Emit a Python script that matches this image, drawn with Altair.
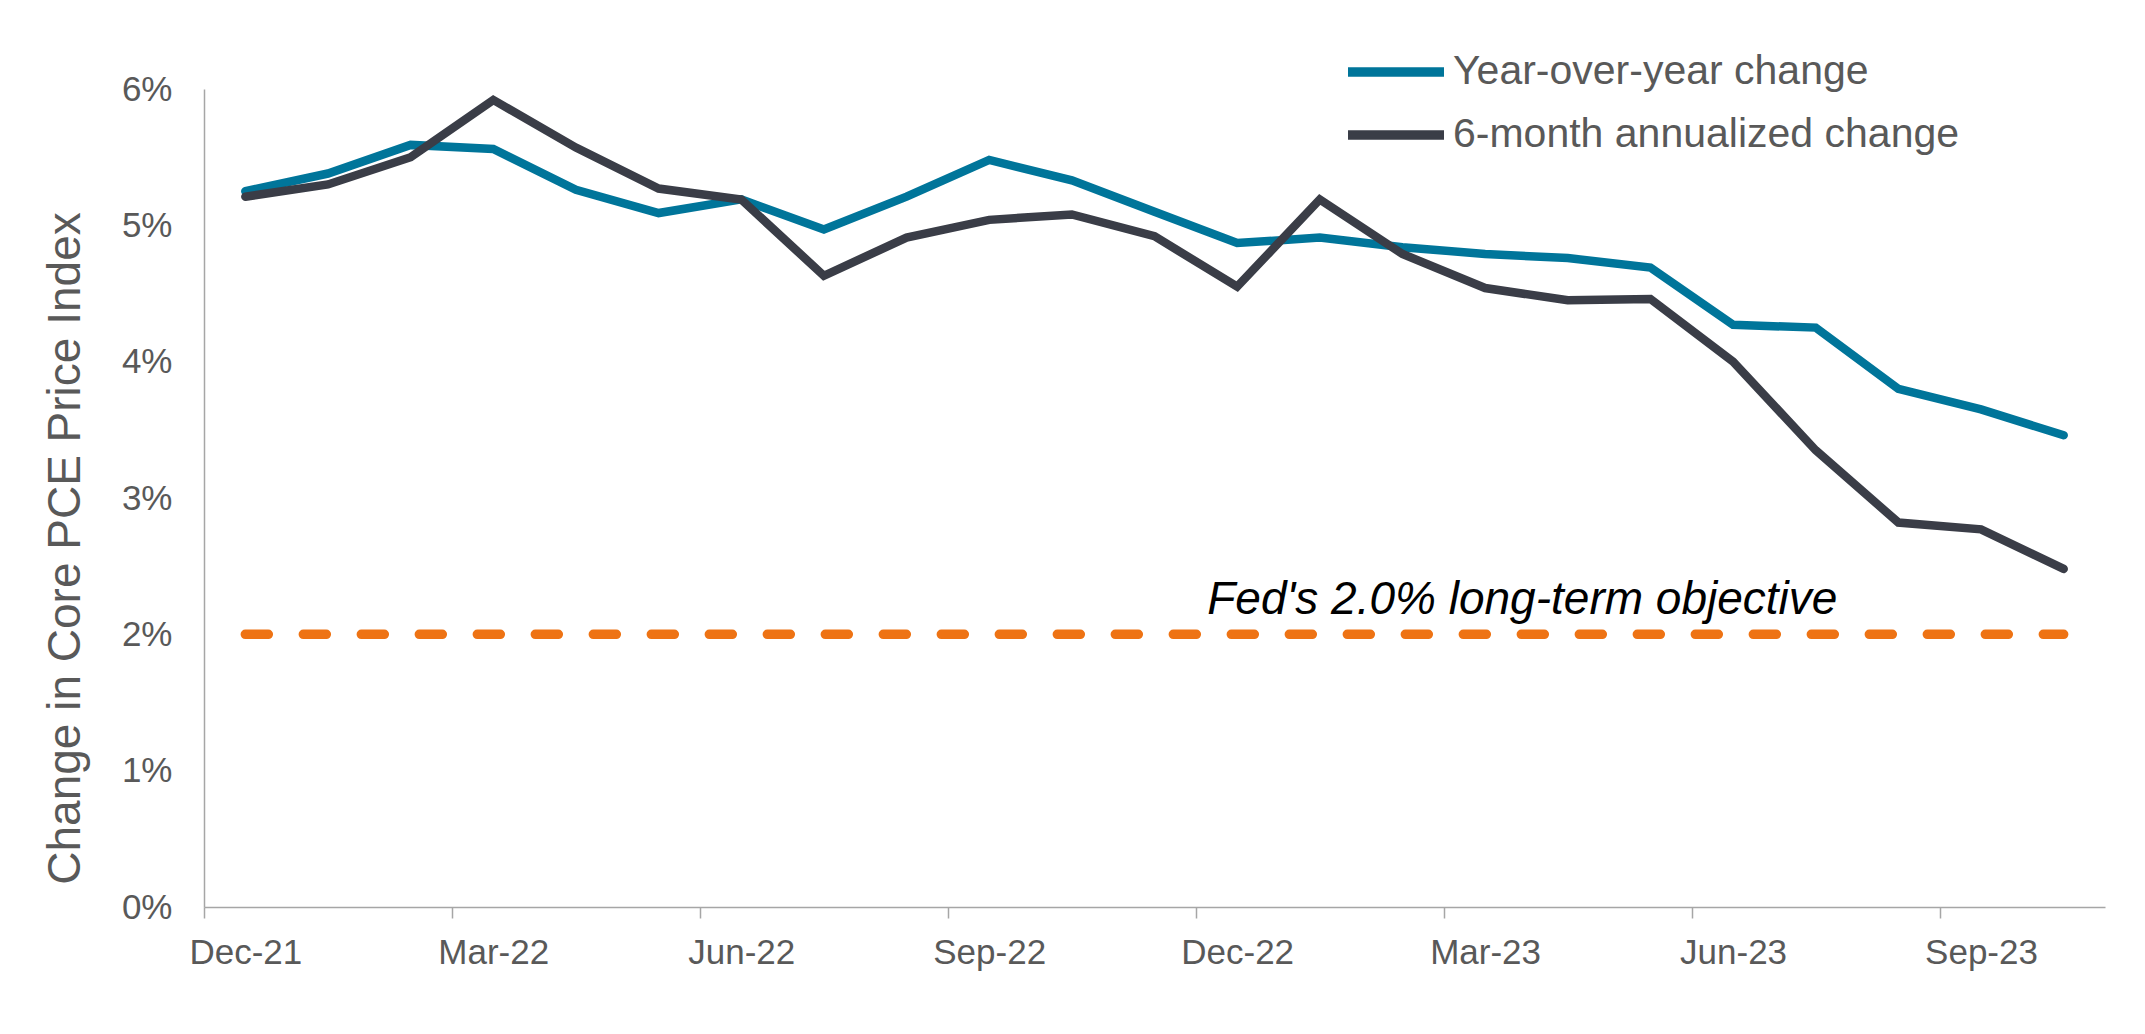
import json
import altair as alt
import pandas as pd

# ---- data ----
months = ["Dec-21", "Jan-22", "Feb-22", "Mar-22", "Apr-22", "May-22", "Jun-22",
          "Jul-22", "Aug-22", "Sep-22", "Oct-22", "Nov-22", "Dec-22", "Jan-23",
          "Feb-23", "Mar-23", "Apr-23", "May-23", "Jun-23", "Jul-23", "Aug-23",
          "Sep-23", "Oct-23"]
yoy = [5.25, 5.38, 5.59, 5.56, 5.26, 5.09, 5.19, 4.97, 5.21, 5.48, 5.33, 5.10,
       4.87, 4.91, 4.84, 4.79, 4.76, 4.69, 4.27, 4.25, 3.80, 3.65, 3.46]
six_month = [5.21, 5.30, 5.50, 5.92, 5.57, 5.27, 5.19, 4.63, 4.91, 5.04, 5.08, 4.92,
             4.55, 5.19, 4.79, 4.54, 4.45, 4.46, 4.00, 3.35, 2.82, 2.77, 2.48]
series_names = ["Year-over-year change", "6-month annualized change"]
series_colors = ["#00759A", "#3A3D47"]
tick_months = [0, 3, 6, 9, 12, 15, 18, 21]
y_ticks = [0, 1, 2, 3, 4, 5, 6]
fed_target = 2.0
fed_label = "Fed's 2.0% long-term objective"

# ---- tables ----
rows = []
for i, m in enumerate(months):
    rows.append({"pos": i + 0.5, "month": m, "series": series_names[0], "value": yoy[i]})
    rows.append({"pos": i + 0.5, "month": m, "series": series_names[1], "value": six_month[i]})
df = pd.DataFrame(rows)
target_df = pd.DataFrame([{"x": 0.5, "x2": len(months) - 0.5, "y": fed_target}])
note_df = pd.DataFrame([{"x": 15.95, "y": fed_target, "label": fed_label}])

FONT = "Liberation Sans"
GRAY = "#595959"
AXIS_GRAY = "#A6A6A6"
W, H = 1901, 818
n = len(months)
band = W / n

x_scale = alt.Scale(domain=[0, n], nice=False, zero=False)
y_scale = alt.Scale(domain=[0, 6], nice=False)

x_axis = alt.Axis(values=tick_months, labelExpr=f"{json.dumps(months)}[datum.value]",
                  labelOffset=band / 2, labelFlush=False, labelOverlap=False,
                  labelFontSize=35, labelColor=GRAY, labelFont=FONT, labelPadding=17,
                  tickSize=11, tickColor=AXIS_GRAY, tickWidth=1.5,
                  domainColor=AXIS_GRAY, domainWidth=1.5, grid=False, title=None)
y_axis = alt.Axis(values=y_ticks, labelExpr="datum.value + '%'", labelFontSize=35,
                  labelColor=GRAY, labelFont=FONT, labelPadding=32, ticks=False,
                  domainColor=AXIS_GRAY, domainWidth=1.5, grid=False,
                  title="Change in Core PCE Price Index", titleFontSize=46,
                  titleFont=FONT, titleColor=GRAY, titleFontWeight="normal",
                  titleAngle=270, titleX=-139, titleY=459, titleAlign="center",
                  titleBaseline="middle")

color = alt.Color("series:N",
                  scale=alt.Scale(domain=series_names, range=series_colors),
                  legend=alt.Legend(orient="none", legendX=1139, legendY=-42, title=None,
                                    symbolType="stroke", symbolStrokeWidth=9.5,
                                    symbolSize=9216, labelFontSize=41, labelColor=GRAY,
                                    labelFont=FONT, labelLimit=0, clipHeight=50,
                                    rowPadding=13, labelOffset=4, padding=0))

base = alt.Chart(df)

target_rule = alt.Chart(target_df).mark_rule(
    color="#EE7314", strokeWidth=9.5, strokeDash=[23, 35], strokeCap="round"
).encode(
    x=alt.X("x:Q", scale=x_scale, axis=x_axis),
    x2="x2:Q",
    y=alt.Y("y:Q", scale=y_scale, axis=y_axis),
)

line_yoy = base.transform_filter(alt.datum.series == series_names[0]).mark_line(
    strokeWidth=8.5, strokeJoin="miter", strokeCap="round"
).encode(
    x=alt.X("pos:Q", scale=x_scale, axis=x_axis),
    y=alt.Y("value:Q", scale=y_scale, axis=y_axis),
    color=color,
)
line_six = base.transform_filter(alt.datum.series == series_names[1]).mark_line(
    strokeWidth=8.5, strokeJoin="miter", strokeCap="round"
).encode(
    x=alt.X("pos:Q", scale=x_scale, axis=x_axis),
    y=alt.Y("value:Q", scale=y_scale, axis=y_axis),
    color=color,
)

note = alt.Chart(note_df).mark_text(
    font=FONT, fontSize=46, fontStyle="italic", color="black", align="center",
    baseline="alphabetic", dy=-20
).encode(
    x=alt.X("x:Q", scale=x_scale, axis=x_axis),
    y=alt.Y("y:Q", scale=y_scale, axis=y_axis),
    text="label:N",
)

chart = alt.layer(target_rule, line_yoy, line_six, note).properties(
    width=W, height=H, autosize="none",
    padding={"left": 196, "top": 81, "right": 32, "bottom": 110},
    background="white",
).configure_view(stroke=None)

chart.save("out.html", embed_options={"renderer": "svg", "actions": False})
